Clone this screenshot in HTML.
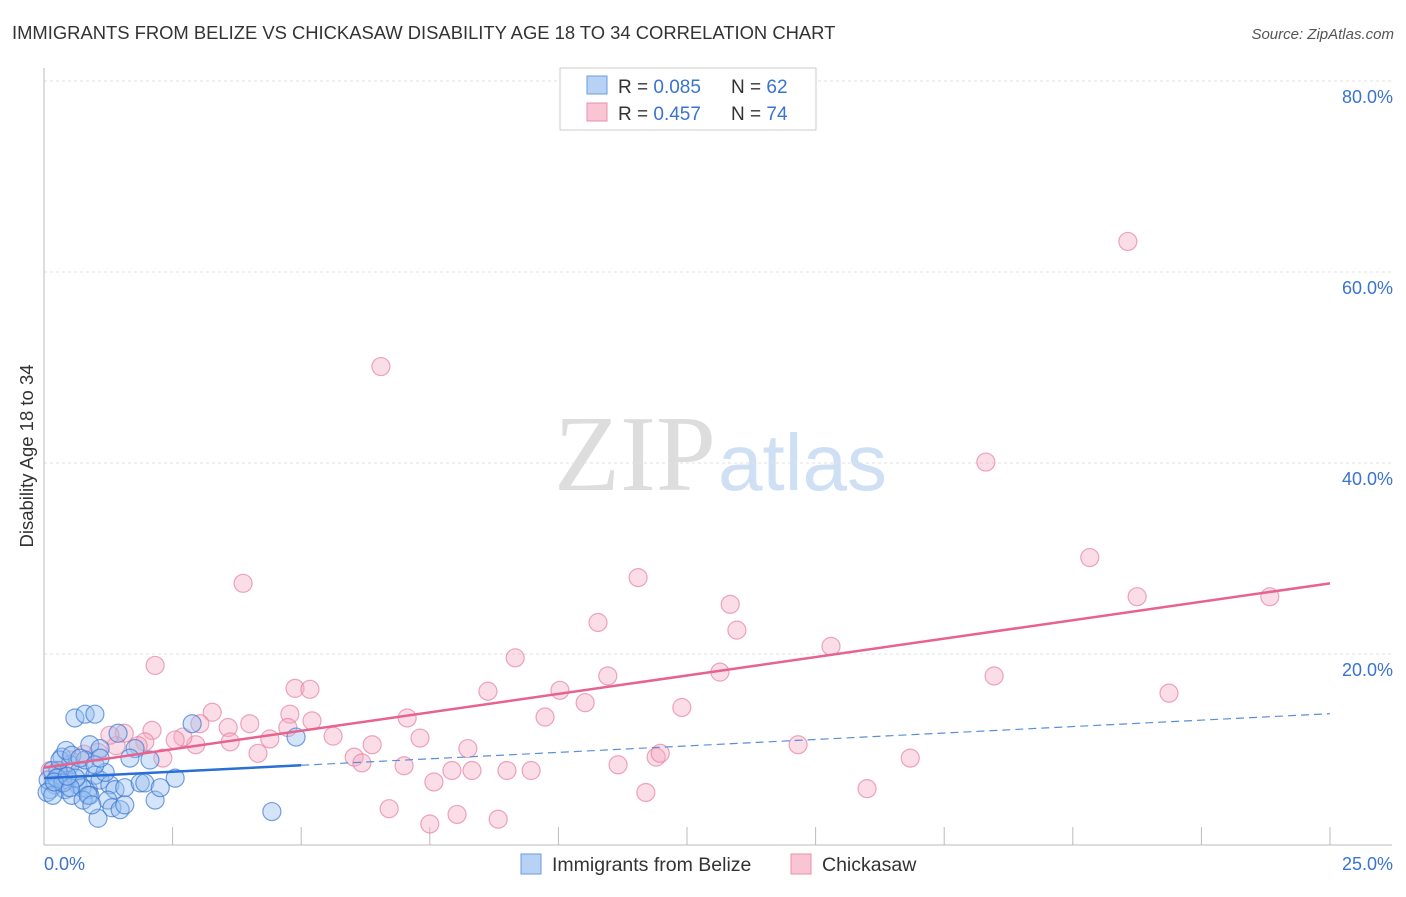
<!DOCTYPE html>
<html><head><meta charset="utf-8"><style>
body{margin:0;background:#fff;font-family:"Liberation Sans",sans-serif}
svg text{font-family:"Liberation Sans",sans-serif}
</style></head><body>
<svg width="1406" height="892" xmlns="http://www.w3.org/2000/svg">
<text x="12" y="39" font-size="18.4" fill="#333">IMMIGRANTS FROM BELIZE VS CHICKASAW DISABILITY AGE 18 TO 34 CORRELATION CHART</text>
<text x="1394" y="39" font-size="15" fill="#555" font-style="italic" text-anchor="end">Source: ZipAtlas.com</text>
<text x="716" y="490" font-size="108" fill="#ddd" text-anchor="end" style="font-family:'Liberation Serif',serif">ZIP</text>
<text x="718" y="490" font-size="80" fill="#cfe0f5">atlas</text>
<g id="grid"></g>
<g id="axes"></g>
<g id="marks"></g>
<text transform="translate(33,456) rotate(-90)" font-size="18.5" fill="#333" text-anchor="middle">Disability Age 18 to 34</text>
<g>
<rect x="560" y="68" width="256" height="62" fill="#fff" stroke="#ccc"/>
<rect x="587" y="76" width="20" height="18" fill="#b7d2f5" stroke="#6a9ce0"/>
<text x="618" y="93" font-size="19" fill="#333">R = <tspan fill="#3a73d0">0.085</tspan></text>
<text x="731" y="93" font-size="19" fill="#333">N = <tspan fill="#3a73d0">62</tspan></text>
<rect x="587" y="103" width="20" height="18" fill="#f9c5d5" stroke="#e890a8"/>
<text x="618" y="120" font-size="19" fill="#333">R = <tspan fill="#3a73d0">0.457</tspan></text>
<text x="731" y="120" font-size="19" fill="#333">N = <tspan fill="#3a73d0">74</tspan></text>
</g>
<g>
<rect x="521" y="854" width="20" height="20" fill="#b7d2f5" stroke="#6a9ce0"/>
<text x="552" y="871" font-size="19.5" fill="#333">Immigrants from Belize</text>
<rect x="791" y="854" width="20" height="20" fill="#f9c5d5" stroke="#e890a8"/>
<text x="822" y="871" font-size="19.5" fill="#333">Chickasaw</text>
</g>
</svg>
<script>
const yTicks=[20,40,60,80];
const yTickLabels=["20.0%","40.0%","60.0%","80.0%"];
const xTickCount=10;
const blueX=[0.60,0.80,0.99,0.35,0.51,0.70,0.89,1.09,1.44,1.77,1.67,2.88,4.90,0.31,0.47,0.21,0.12,0.27,0.66,0.86,0.99,1.09,1.28,1.38,1.57,1.87,2.16,2.55,1.24,1.32,1.48,1.57,1.05,4.43,0.41,0.54,0.74,0.89,0.08,0.16,1.19,0.31,0.43,0.54,0.80,0.62,0.76,0.86,0.93,1.96,2.26,0.06,0.17,0.25,0.37,0.51,0.70,0.99,1.09,2.06,0.20,0.45];
const blueY=[13.3,13.7,13.7,9.2,8.4,7.8,10.5,10.1,11.7,10.1,9.1,12.7,11.3,7.3,6.8,6.3,5.8,7.8,6.3,5.8,7.3,6.8,6.3,5.8,6.0,6.5,4.7,7.0,4.7,3.9,3.7,4.2,2.8,3.5,5.8,5.2,6.0,5.2,6.8,7.8,7.6,8.9,9.9,9.4,8.9,7.0,4.7,5.2,4.2,6.5,6.0,5.5,5.2,7.0,6.5,6.0,9.1,8.4,9.1,8.9,6.6,7.2];
const pinkX=[2.16,3.87,6.55,21.07,18.31,20.33,21.25,23.83,11.55,10.77,13.34,13.47,15.30,9.16,8.63,10.03,10.96,13.14,18.47,21.87,12.40,9.74,10.52,7.06,7.31,8.24,6.38,6.03,6.18,7.00,7.58,7.93,8.32,9.00,9.47,11.16,11.90,11.98,14.66,16.84,11.70,16.00,6.71,7.50,8.03,8.83,4.88,5.17,4.78,5.21,5.62,4.74,4.39,4.00,4.16,3.58,3.62,3.27,3.03,2.95,2.70,2.55,2.31,2.10,1.96,1.83,1.56,1.40,1.28,1.05,0.78,0.51,0.27,0.12];
const pinkY=[18.8,27.4,50.1,63.2,40.1,30.1,26.0,26.0,28.0,23.3,25.2,22.5,20.8,19.6,16.1,16.2,17.7,18.1,17.7,15.9,14.4,13.4,14.9,13.3,11.2,10.1,10.5,9.2,8.6,8.3,6.6,7.8,7.8,7.8,7.8,8.4,9.2,9.6,10.5,9.1,5.5,5.9,3.8,2.2,3.2,2.7,16.4,16.3,13.7,13.0,11.4,12.3,11.1,12.7,9.6,12.3,10.8,13.9,12.7,10.5,11.3,11.0,9.1,12.0,10.8,10.4,11.7,10.4,11.5,9.7,9.5,8.9,7.8,7.8];
const blueTrend=[7.0,0.27];
const blueSolidEnd=5.0;
const pinkTrend=[8.1,0.772];
const X=v=>44+v*(1286/25), Y=v=>845-v*(764/80);
const NS="http://www.w3.org/2000/svg";
function mk(p,t,a){const e=document.createElementNS(NS,t);for(const k in a)e.setAttribute(k,a[k]);p.appendChild(e);return e;}
const grid=document.getElementById('grid'),axes=document.getElementById('axes'),marks=document.getElementById('marks');
yTicks.forEach((t,i)=>{
 const l=mk(grid,'line',{x1:44,x2:1392,y1:Y(t),y2:Y(t),stroke:'#e2e2e2','stroke-dasharray':'3,3'});
 
 
 const tx=mk(grid,'text',{x:1393,y:Y(t)+22,'font-size':18,fill:'#3a73d0','text-anchor':'end'});
 tx.textContent=yTickLabels[i];
 
 
});
let a=mk(axes,'line',{x1:44,x2:44,y1:68,y2:845,stroke:'#bbb'});


a=mk(axes,'line',{x1:44,x2:1392,y1:845,y2:845,stroke:'#bbb'});


for(let i=1;i<=xTickCount;i++){const t=mk(axes,'line',{x1:X(i*2.5),x2:X(i*2.5),y1:827,y2:845,stroke:'#bbb'});
 
 }
let t0=mk(axes,'text',{x:44,y:870,'font-size':18,fill:'#3a73d0'});t0.textContent='0.0%';


t0=mk(axes,'text',{x:1393,y:870,'font-size':18,fill:'#3a73d0','text-anchor':'end'});t0.textContent='25.0%';


pinkX.forEach((x,i)=>{const c=mk(marks,'circle',{cx:X(x),cy:Y(pinkY[i]),r:9,fill:'rgba(245,170,195,0.4)',stroke:'rgba(230,130,160,0.7)','stroke-width':1.2});
 
 });
blueX.forEach((x,i)=>{const c=mk(marks,'circle',{cx:X(x),cy:Y(blueY[i]),r:9,fill:'rgba(150,190,240,0.4)',stroke:'rgba(60,120,210,0.7)','stroke-width':1.2});
 
 });
let L=mk(marks,'line',{x1:X(0),y1:Y(pinkTrend[0]),x2:X(25),y2:Y(pinkTrend[0]+pinkTrend[1]*25),stroke:'#e8628e','stroke-width':2.5});


L=mk(marks,'line',{x1:X(0),y1:Y(blueTrend[0]),x2:X(blueSolidEnd),y2:Y(blueTrend[0]+blueTrend[1]*blueSolidEnd),stroke:'#2a6fd6','stroke-width':2.5});


L=mk(marks,'line',{x1:X(blueSolidEnd),y1:Y(blueTrend[0]+blueTrend[1]*blueSolidEnd),x2:X(25),y2:Y(blueTrend[0]+blueTrend[1]*25),stroke:'#5a8fd8','stroke-width':1.2,'stroke-dasharray':'8,5'});


</script>
</body></html>
